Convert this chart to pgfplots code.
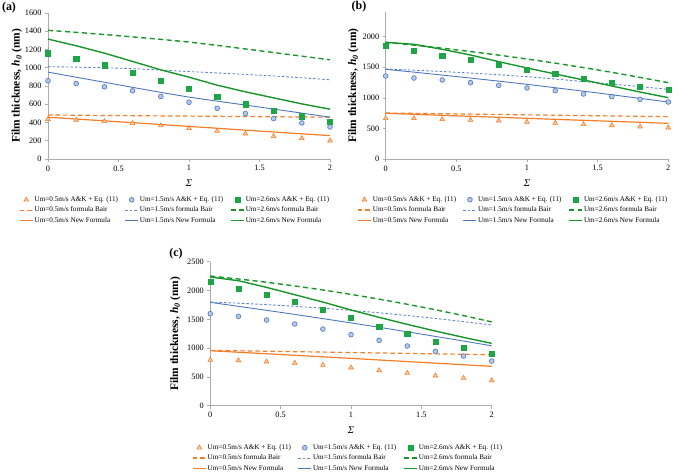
\documentclass[border=0pt]{standalone}
\usepackage{pgfplots}
\pgfplotsset{compat=1.18}
\usepackage{pgfplotstable}
\usepackage{fontspec}
\setmainfont{Liberation Serif}

\definecolor{oran}{RGB}{245,125,40}
\definecolor{oranfill}{RGB}{252,205,170}
\definecolor{blu}{RGB}{78,118,190}
\definecolor{bludash}{RGB}{95,135,205}
\definecolor{blufill}{RGB}{180,200,235}
\definecolor{grn}{RGB}{22,150,40}
\definecolor{sqgrn}{RGB}{30,165,70}

% columns: s, triangles, orange dashed, orange solid, circles, blue dashed, blue solid, squares, green dashed, green solid
\pgfplotstableread{
s   tri od  os  ci  bd   bs  sq   gd   gs
0   436 482 458 857 1012 952 1160 1410 1314
0.2 428 480 438 827 1007 896 1095 1388 1241
0.4 414 477 418 791 1000 841 1029 1364 1160
0.6 392 475 398 747 990  785 945  1338 1069
0.8 366 472 378 685 975  730 860  1311 977
1.0 337 470 357 622 958  678 769  1282 897
1.2 307 468 337 556 943  634 681  1245 809
1.4 278 465 316 498 927  591 600  1206 736
1.6 249 463 296 443 910  547 531  1167 670
1.8 227 460 276 395 890  503 469  1127 604
2.0 201 458 256 351 868  458 410  1087 546
}\tabA

\pgfplotstableread{
s   tri od  os  ci   bd   bs   sq   gd   gs
0   665 752 747 1357 1472 1466 1853 1907 1907
0.2 665 746 731 1324 1452 1420 1771 1862 1875
0.4 649 740 714 1292 1430 1372 1695 1812 1793
0.6 638 734 698 1248 1405 1323 1619 1757 1700
0.8 627 728 682 1204 1377 1273 1542 1698 1591
1.0 605 722 665 1161 1346 1221 1466 1635 1488
1.2 589 716 649 1117 1307 1165 1395 1567 1390
1.4 567 710 632 1063 1266 1108 1319 1494 1292
1.6 550 704 616 1019 1225 1050 1248 1417 1193
1.8 529 698 600 976  1183 991  1183 1334 1095
2.0 512 692 583 932  1139 932  1128 1248 1003
}\tabB

\pgfplotstableread{
s   tri od  os  ci   bd   bs   sq   gd   gs
0   793 961 955 1597 1800 1794 2153 2251 2234
0.2 787 953 928 1551 1780 1725 2037 2200 2170
0.4 764 946 902 1487 1755 1656 1933 2143 2054
0.6 741 938 875 1418 1726 1585 1806 2079 1927
0.8 706 931 849 1331 1693 1512 1672 2009 1800
1.0 660 923 822 1233 1655 1438 1522 1933 1661
1.2 613 915 794 1134 1613 1361 1377 1850 1534
1.4 567 908 766 1036 1566 1283 1250 1761 1412
1.6 521 900 739 943  1515 1203 1117 1666 1296
1.8 480 893 711 862  1460 1122 1013 1564 1186
2.0 440 885 683 775  1400 1040 909  1455 1082
}\tabC

\pgfplotsset{
  mylinelegend/.style={legend image code/.code={\draw[##1] (0bp,0bp) -- (13bp,0bp);}},
  mymarklegend/.style={legend image code/.code={\draw[##1] plot coordinates {(6.5bp,0bp)};}},
  panel/.style={
    scale only axis, width=282bp,
    xmin=0, xmax=2, ymin=0,
    axis x line*=bottom, axis y line*=left,
    axis line style={draw=gray!65, line width=0.6pt},
    every tick/.style={draw=gray!65, line width=0.5pt},
    tick align=outside, major tick length=3bp,
    xtick={0,0.5,1,1.5,2}, xticklabels={0,0.5,1,1.5,2},
    tick label style={font=\fontsize{8.3}{9}\selectfont},
    /pgf/number format/assume math mode=true,
    /pgf/number format/1000 sep={},
    scaled y ticks=false,
    clip=false,
    xlabel={\textit{Σ}},
    xlabel style={font=\fontsize{10.5}{11}\selectfont, at={(axis description cs:0.5,0)}, anchor=center, yshift=-24bp},
    ylabel={Film thickness, \textit{h}\textsubscript{\textit{0}} (nm)},
    ylabel style={font=\bfseries\fontsize{11.5}{12}\selectfont, anchor=center},
    legend columns=3, legend cell align=left,
    legend style={draw=none, fill=none, font=\fontsize{7.2}{8}\selectfont,
      anchor=north west, inner sep=0pt, row sep=1.2bp,
      nodes={inner sep=1.3bp},
      /tikz/every even column/.append style={column sep=5.5bp}},
  }
}

\newcommand{\panelplots}[1]{%
  \addplot[only marks, mark=triangle*, mark size=2.7bp, mark options={draw=oran, fill=oranfill, line width=0.6pt}, mymarklegend] table[x=s, y=tri] {#1};
  \addplot[only marks, mark=*, mark size=2.4bp, mark options={draw=blu, fill=blufill, line width=0.6pt}, mymarklegend] table[x=s, y=ci] {#1};
  \addplot[only marks, mark=square*, mark size=2.6bp, mark options={draw=sqgrn, fill=sqgrn}, mymarklegend] table[x=s, y=sq] {#1};
  \addplot[oran, line width=1.2pt, dash pattern=on 4.5bp off 3bp, mylinelegend] table[x=s, y=od] {#1};
  \addplot[bludash, line width=0.9pt, dash pattern=on 2.5bp off 2bp, mylinelegend] table[x=s, y=bd] {#1};
  \addplot[grn, line width=1.4pt, dash pattern=on 5bp off 3.5bp, mylinelegend] table[x=s, y=gd] {#1};
  \addplot[oran, line width=1.2pt, mylinelegend] table[x=s, y=os] {#1};
  \addplot[blu, line width=0.9pt, mylinelegend] table[x=s, y=bs] {#1};
  \addplot[grn, line width=1.4pt, mylinelegend] table[x=s, y=gs] {#1};
  \legend{Um=0.5m/s A\&K + Eq. (11), Um=1.5m/s A\&K + Eq. (11), Um=2.6m/s A\&K + Eq. (11),
          Um=0.5m/s formula Bair, Um=1.5m/s formula Bair, Um=2.6m/s formula Bair,
          Um=0.5m/s New Formula, Um=1.5m/s New Formula, Um=2.6m/s New Formula}
}

\begin{document}
\begin{tikzpicture}
\useasboundingbox (0,0) rectangle (685bp,473bp);

% panel (a)
\begin{scope}
\clip (0,0) rectangle (340bp,473bp);
\begin{axis}[panel, at={(48bp,314bp)}, anchor=south west,
    height=146bp, ymax=1600, ytick={0,200,...,1600},
    ylabel style={at={(axis description cs:-0.11,0.5)}},
    legend style={at={(-0.103,-0.247)}}]
  \panelplots{\tabA}
\end{axis}
\end{scope}
\node[font=\bfseries\fontsize{12}{12}\selectfont] at (9bp,465.5bp) {(a)};

% panel (b)
\begin{axis}[panel, at={(385.7bp,314bp)}, anchor=south west, width=282.6bp,
    height=146.8bp, ymax=2400, ytick={0,500,...,2000},
    ylabel style={at={(axis description cs:-0.114,0.5)}},
    legend style={at={(-0.101,-0.245)}}]
  \panelplots{\tabB}
\end{axis}
\node[font=\bfseries\fontsize{12}{12}\selectfont] at (359bp,466bp) {(b)};

% panel (c)
\begin{axis}[panel, at={(210.3bp,67.3bp)}, anchor=south west, width=281.4bp,
    height=144bp, ymax=2500, ytick={0,500,...,2500},
    ylabel style={at={(axis description cs:-0.124,0.5)}},
    legend style={at={(-0.065,-0.259)}}]
  \panelplots{\tabC}
\end{axis}
\node[font=\bfseries\fontsize{12}{12}\selectfont] at (176bp,219bp) {(c)};
\end{tikzpicture}
\end{document}
